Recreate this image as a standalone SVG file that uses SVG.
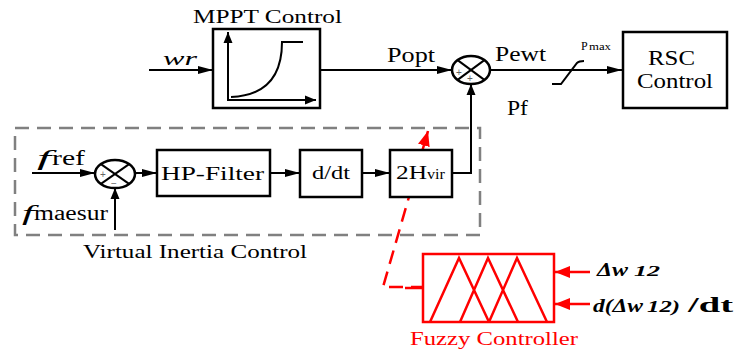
<svg xmlns="http://www.w3.org/2000/svg" width="737" height="352" viewBox="0 0 737 352">
<style>
text{font-family:"Liberation Serif","Times New Roman",serif;fill:#000}
.box{fill:#fff;stroke:#000;stroke-width:2.5}
.ln{fill:none;stroke:#000;stroke-width:2}
.red{fill:none;stroke:#f00;stroke-width:2.5}
.sign{font-family:"Liberation Sans",Arial,sans-serif;font-size:10px;fill:#666}
.rt{fill:#f00}
</style>
<defs>
<marker id="ah" markerUnits="userSpaceOnUse" markerWidth="16" markerHeight="10" refX="15" refY="5" orient="auto"><path d="M0,1 L15,5 L0,9 z" fill="#000"/></marker>
<marker id="av" markerUnits="userSpaceOnUse" markerWidth="12" markerHeight="10" refX="11" refY="5" orient="auto"><path d="M0,0.5 L11,5 L0,9.5 z" fill="#000"/></marker>
<marker id="ar" markerUnits="userSpaceOnUse" markerWidth="16" markerHeight="14" refX="15" refY="7" orient="auto"><path d="M0,1 L15,7 L0,13 z" fill="#f00"/></marker>
</defs>

<g id="virtual-inertia-frame">
<rect x="15" y="128" width="465" height="107" fill="none" stroke="#808080" stroke-width="2.5" stroke-dasharray="14 8"/>
<text x="83" y="258" font-size="19" textLength="224" lengthAdjust="spacingAndGlyphs">Virtual Inertia Control</text>
</g>

<g id="connectors">
<line class="ln" x1="149" y1="70" x2="213" y2="70" marker-end="url(#ah)"/>
<line class="ln" x1="320" y1="70" x2="452" y2="70" marker-end="url(#ah)"/>
<line class="ln" x1="490" y1="70" x2="622" y2="70" marker-end="url(#ah)"/>
<path class="ln" d="M452,173 H471 V84" marker-end="url(#av)"/>
<line class="ln" x1="32" y1="173" x2="95" y2="173" marker-end="url(#ah)"/>
<line class="ln" x1="115" y1="230" x2="115" y2="188" marker-end="url(#av)"/>
<line class="ln" x1="135" y1="173" x2="157" y2="173" marker-end="url(#ah)"/>
<line class="ln" x1="270" y1="173" x2="300" y2="173" marker-end="url(#ah)"/>
<line class="ln" x1="362" y1="173" x2="390" y2="173" marker-end="url(#ah)"/>
<path class="ln" d="M552,84 H561 L577,63 Q579,61 584,61"/>
<path class="red" d="M425,287 H383 L428,131" stroke-dasharray="14 8" marker-end="url(#ar)"/>
<line class="red" x1="590" y1="272" x2="555" y2="272" stroke-width="2.2" marker-end="url(#ar)"/>
<line class="red" x1="590" y1="304" x2="555" y2="304" stroke-width="2.2" marker-end="url(#ar)"/>
</g>

<g id="wr-label"><text x="163" y="65" font-size="19" font-style="italic" textLength="34" lengthAdjust="spacingAndGlyphs">wr</text></g>

<g id="mppt">
<text x="193" y="23" font-size="18" textLength="149" lengthAdjust="spacingAndGlyphs">MPPT Control</text>
<rect class="box" x="213" y="29" width="107" height="79" stroke-width="3"/>
<line class="ln" x1="228" y1="101" x2="228" y2="32" marker-end="url(#av)"/>
<line class="ln" x1="227" y1="100" x2="316" y2="100" marker-end="url(#av)"/>
<path class="ln" d="M231,97 Q282,95 282,42 H303"/>
</g>

<g id="sum-power">
<ellipse cx="471" cy="70" rx="19" ry="14" fill="#fff" stroke="#000" stroke-width="2.5"/>
<line class="ln" x1="457.6" y1="60.1" x2="484.4" y2="79.9"/>
<line class="ln" x1="484.4" y1="60.1" x2="457.6" y2="79.9"/>
<text class="sign" x="456" y="76">+</text>
<text class="sign" x="467" y="82">+</text>
</g>

<g id="power-labels">
<text x="387" y="62" font-size="20" textLength="48" lengthAdjust="spacingAndGlyphs">Popt</text>
<text x="495" y="61" font-size="20" textLength="51" lengthAdjust="spacingAndGlyphs">Pewt</text>
<text x="507" y="115" font-size="21" textLength="21" lengthAdjust="spacingAndGlyphs">Pf</text>
<text x="581" y="50" font-size="12">P</text>
<text x="589" y="50" font-size="10" textLength="22" lengthAdjust="spacingAndGlyphs">max</text>
</g>

<g id="rsc">
<rect class="box" x="623" y="32" width="104" height="76" stroke-width="3"/>
<text x="648" y="65" font-size="21" textLength="47" lengthAdjust="spacingAndGlyphs">RSC</text>
<text x="637" y="88" font-size="21" textLength="76" lengthAdjust="spacingAndGlyphs">Control</text>
</g>

<g id="sum-freq">
<ellipse cx="115" cy="174" rx="20" ry="14" fill="#fff" stroke="#000" stroke-width="2.5"/>
<line class="ln" x1="100.9" y1="164.1" x2="129.1" y2="183.9"/>
<line class="ln" x1="129.1" y1="164.1" x2="100.9" y2="183.9"/>
<text class="sign" x="100" y="178">+</text>
<text class="sign" x="111" y="187">−</text>
</g>

<g id="freq-labels">
<text x="37" y="165" font-size="21" font-style="italic" textLength="14" lengthAdjust="spacingAndGlyphs">f</text>
<text x="52" y="165" font-size="20" textLength="33" lengthAdjust="spacingAndGlyphs">ref</text>
<text x="22" y="220" font-size="21" font-style="italic" textLength="12" lengthAdjust="spacingAndGlyphs">f</text>
<text x="34" y="220" font-size="20" textLength="74" lengthAdjust="spacingAndGlyphs">maesur</text>
</g>

<g id="hp-filter">
<rect class="box" x="157" y="150" width="113" height="46"/>
<text x="161" y="180" font-size="19" textLength="103" lengthAdjust="spacingAndGlyphs">HP-Filter</text>
</g>

<g id="ddt">
<rect class="box" x="300" y="150" width="62" height="47"/>
<text x="312" y="179" font-size="19" textLength="38" lengthAdjust="spacingAndGlyphs">d/dt</text>
</g>

<g id="h-vir">
<rect class="box" x="390" y="150" width="62" height="47"/>
<text x="396" y="179" font-size="19" textLength="31" lengthAdjust="spacingAndGlyphs">2H</text>
<text x="427" y="179" font-size="14" textLength="18" lengthAdjust="spacingAndGlyphs">vir</text>
</g>

<g id="fuzzy">
<rect x="423" y="254" width="131" height="68" fill="#fff" stroke="#f00" stroke-width="2.5"/>
<line class="red" x1="405" y1="288" x2="423" y2="288"/>
<path class="red" d="M430,322 L459,258 L489,322 M460,322 L488,258 L518,322 M489,322 L517,258 L547,322"/>
<text class="rt" x="410" y="345" font-size="18" textLength="168" lengthAdjust="spacingAndGlyphs">Fuzzy Controller</text>
</g>

<g id="fuzzy-inputs">
<text x="597" y="276" font-size="18" font-weight="bold" font-style="italic" textLength="31" lengthAdjust="spacingAndGlyphs">Δw</text>
<text x="634" y="276" font-size="15" font-weight="bold" font-style="italic" textLength="26" lengthAdjust="spacingAndGlyphs">12</text>
<text x="593" y="312" font-size="19" font-weight="bold" font-style="italic" textLength="50" lengthAdjust="spacingAndGlyphs">d(Δw</text>
<text x="647" y="312" font-size="16" font-weight="bold" font-style="italic" textLength="33" lengthAdjust="spacingAndGlyphs">12)</text>
<text x="688" y="312" font-size="20" font-weight="bold" textLength="45" lengthAdjust="spacingAndGlyphs">/dt</text>
</g>
</svg>
